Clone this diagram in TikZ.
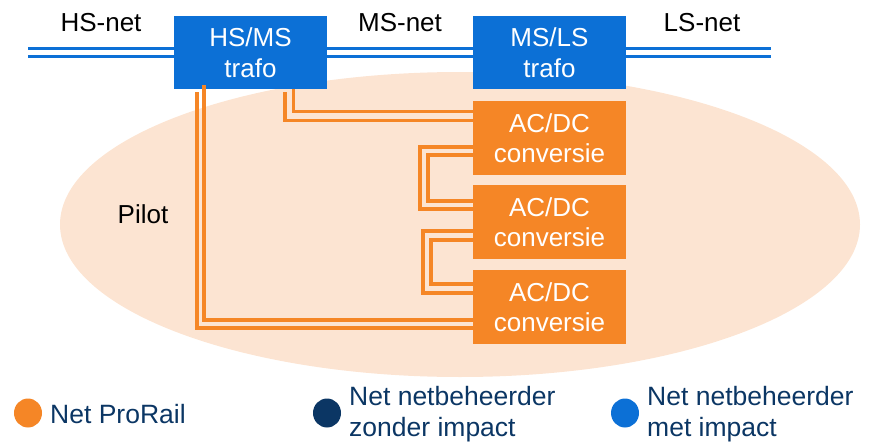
\documentclass[tikz,border=0pt]{standalone}
\usepackage{fontspec}
\setmainfont{Liberation Sans}
\usetikzlibrary{calc}
\definecolor{netblue}{RGB}{12,112,214}
\definecolor{netnavy}{RGB}{11,54,100}
\definecolor{prorail}{RGB}{245,134,38}
\definecolor{pilotbg}{RGB}{252,228,210}
\newcommand{\legenditem}[4] % x in pt, y in pt, colour, text
{
	% dot
	\fill[#3] (#1,#2) ellipse (14pt and 14.5pt);
	% label
	\node[legendtext] (leg#3) at (#1+22,#2+1) {#4};
}

\begin{document}
\begin{tikzpicture}[x=1pt,y=-1pt,
	every node/.style={font=\fontsize{26}{30.5}\selectfont},
	trafo/.style={fill=netblue,text=white,minimum width=153pt,minimum height=73pt,inner sep=0pt,align=center},
	conv/.style={fill=prorail,text=white,minimum width=153pt,minimum height=74pt,inner sep=0pt,align=center},
	netline/.style={draw=netblue,line width=3.3pt,double=white,double distance=5pt},
	dcline/.style={draw=prorail,line width=3.5pt},
	legendtext/.style={anchor=west,align=left,text=netnavy,inner sep=0pt,font=\fontsize{26.5}{30.5}\selectfont}]
	% 870 x 444, y runs down
	\useasboundingbox (0,0) rectangle (870,444);
	\fill[pilotbg] (460,224.5) ellipse (400pt and 152.5pt);
	\node[anchor=base] (pilot) at (143,223) {Pilot};
	
	% nets
	\node[anchor=base] (hsnet) at (101,32) {HS-net};
	\node[anchor=base] (msnet) at (400,32) {MS-net};
	\node[anchor=base] (lsnet) at (702,32) {LS-net};
	\coordinate (hsend) at (28,52.5);
	\coordinate (lsend) at (771,52.5);
	
	\node[trafo] (hsms) at (250.5,52.5) {HS/MS\\trafo};
	\node[trafo] (msls) at (549.5,52.5) {MS/LS\\trafo};
	\node[conv] (conv1) at (549.5,138) {AC/DC\\conversie};
	\node[conv] (conv2) at (549.5,222) {AC/DC\\conversie};
	\node[conv] (conv3) at (549.5,307) {AC/DC\\conversie};
	
	\draw[netline] (hsend) -- (hsms.west);
	\draw[netline] (hsms.east) -- (msls.west);
	\draw[netline] (msls.east) -- (lsend);
	
	% trafo to first converter
	\draw[dcline] ([xshift=34.5pt,yshift=-3pt]hsms.south) |- ([yshift=17.5pt]conv1.west);
	\draw[dcline] ([xshift=43pt]hsms.south) |- ([yshift=26.5pt]conv1.west);
	% converter chain
	\draw[dcline] ([yshift=-9pt]conv1.west) -- ++(-53pt,0) |- ([yshift=13pt]conv2.west);
	\draw[dcline] ([yshift=-17pt]conv1.west) -- ++(-45pt,0) |- ([yshift=21pt]conv2.west);
	\draw[dcline] ([yshift=-9pt]conv2.west) -- ++(-50pt,0) |- ([yshift=14pt]conv3.west);
	\draw[dcline] ([yshift=-18pt]conv2.west) -- ++(-42pt,0) |- ([yshift=23pt]conv3.west);
	% return to trafo
	\draw[dcline] ([xshift=-53.5pt,yshift=-3pt]hsms.south) |- ([yshift=-21pt]conv3.west);
	\draw[dcline] ([xshift=-46.5pt,yshift=4pt]hsms.south) |- ([yshift=-13pt]conv3.west);
	
	% legend
	\legenditem{28}{413}{prorail}{Net ProRail};
	\legenditem{327}{413}{netnavy}{Net netbeheerder\\zonder impact};
	\legenditem{625}{413}{netblue}{Net netbeheerder\\met impact};
\end{tikzpicture}
\end{document}
